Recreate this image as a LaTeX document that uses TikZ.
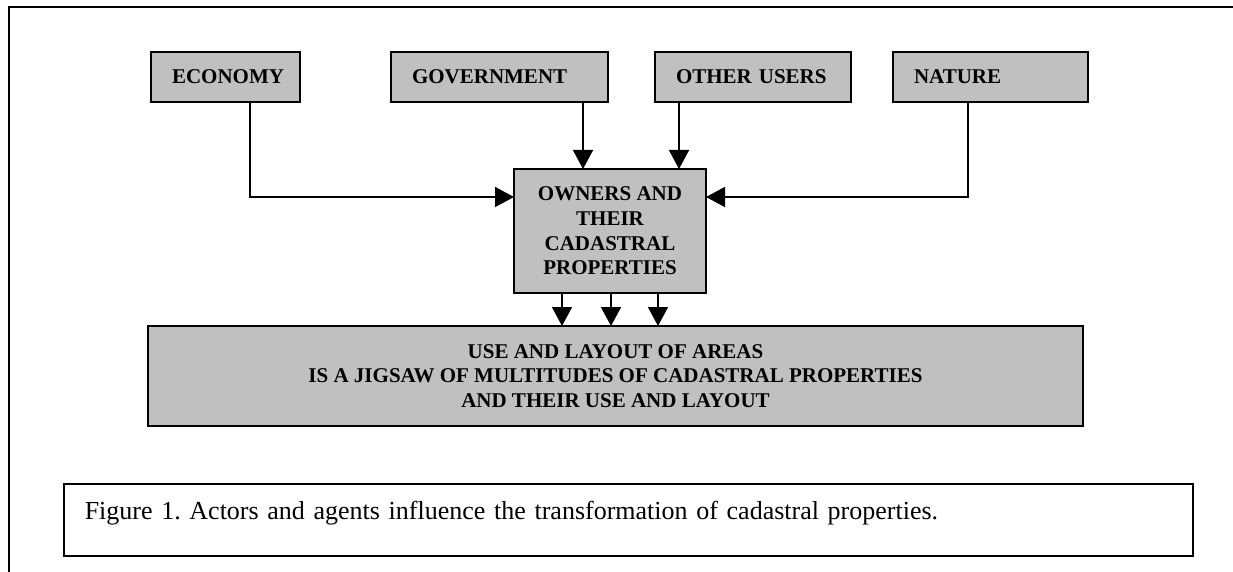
\documentclass[tikz,border=0pt]{standalone}
\usepackage{fontspec}
\setmainfont{Liberation Serif}
\usetikzlibrary{arrows.meta}
\definecolor{boxgray}{HTML}{C0C0C0}
\frenchspacing
\begin{document}
\begin{tikzpicture}[x=1pt,y=-1pt,
  box/.style={draw=black, fill=boxgray, line width=1.8pt, outer sep=0pt,
    font=\fontsize{21}{24.7}\selectfont\bfseries},
  actor/.style={box, anchor=north west, minimum height=50pt,
    inner xsep=21pt, inner ysep=0pt, align=left},
  arr/.style={line width=1.5pt, -{Triangle[length=19pt,width=20pt]}},
  frame/.style={line width=2.5pt}]
\useasboundingbox (0,0) rectangle (1233,572);
% page frame
\draw[frame] (9,572) -- (9,7) -- (1233,7);

% actors and agents
\node[actor, text width=107pt] (eco) at (151,52) {ECONOMY};
\node[actor, text width=175pt] (gov) at (391,52) {GOVERNMENT};
\node[actor, text width=154pt] (oth) at (655,52) {OTHER USERS};
\node[actor, text width=153pt] (nat) at (893,52) {NATURE};

% owners
\node[box, anchor=north west, minimum width=192pt, minimum height=124pt,
      inner sep=0pt, align=center] (own) at (514,169)
  {OWNERS AND\\THEIR\\CADASTRAL\\PROPERTIES};

% use and layout
\node[box, anchor=north west, minimum width=935pt, minimum height=100pt,
      inner sep=0pt, align=center] (use) at (148,326)
  {USE AND LAYOUT OF AREAS\\IS A JIGSAW OF MULTITUDES OF CADASTRAL PROPERTIES\\AND THEIR USE AND LAYOUT};

% caption
\node[draw, line width=1.5pt, anchor=north west, minimum width=1129pt,
      inner xsep=21pt, inner ysep=0pt, text width=1087pt, align=left,
      text height=36pt, text depth=36pt,
      font=\fontsize{26}{30}\selectfont] (cap) at (63,483)
  {Figure 1. Actors and agents influence the transformation of cadastral properties.};

% influences on owners
\draw[arr] ([xshift=24.5pt]eco.south) |- ([yshift=34pt]own.west);
\draw[arr] ([xshift=83.5pt]gov.south) -- ([xshift=-27pt]own.north);
\draw[arr] ([xshift=-74pt]oth.south) -- ([xshift=69pt]own.north);
\draw[arr] ([xshift=-22.5pt]nat.south) |- ([yshift=34pt]own.east);

% owners shape the use of areas
\foreach \d/\n in {-48/a,1/b,48/c}{
  \path ([xshift=\d pt]own.south) coordinate (o\n);
  \draw[arr] (o\n) -- (o\n |- use.north);
}
\end{tikzpicture}
\end{document}
